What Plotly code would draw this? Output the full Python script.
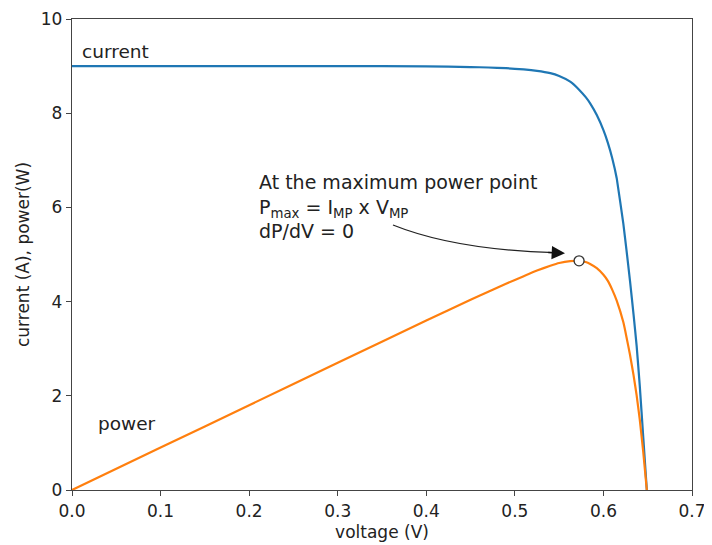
import plotly.graph_objects as go

# Values
voltage = [0.0, 0.1, 0.2, 0.3, 0.4, 0.45, 0.47, 0.49, 0.51, 0.525, 0.54, 0.55, 0.5625, 0.5725,
           0.58, 0.585, 0.5925, 0.6, 0.605, 0.61, 0.615, 0.6225, 0.626, 0.63, 0.634, 0.6375, 0.641, 0.645, 0.649]
current = [9.0, 9.0, 9.0, 9.0, 8.995, 8.98, 8.97, 8.955, 8.93, 8.90, 8.85, 8.79, 8.67, 8.50,
           8.34, 8.21, 7.96, 7.64, 7.37, 7.04, 6.62, 5.65, 5.10, 4.44, 3.73, 3.06, 2.22, 1.11, 0.0]
power = [0.0, 0.90, 1.80, 2.70, 3.60, 4.04, 4.21, 4.38, 4.54, 4.66, 4.76, 4.82, 4.86, 4.865,
         4.84, 4.80, 4.71, 4.57, 4.44, 4.25, 4.02, 3.56, 3.25, 2.87, 2.44, 2.01, 1.50, 0.80, 0.0]
mpp_v = [0.5725]
mpp_p = [4.865]

x_ticks = [0.0, 0.1, 0.2, 0.3, 0.4, 0.5, 0.6, 0.7]
y_ticks = [0, 2, 4, 6, 8, 10]

font = "DejaVu Sans, Verdana, sans-serif"
txt = "#222222"
fig = go.Figure()
fig.add_trace(go.Scatter(x=voltage, y=current, mode="lines",
                         line=dict(color="#1f77b4", width=2.2, shape="spline", smoothing=0.3), showlegend=False))
fig.add_trace(go.Scatter(x=voltage, y=power, mode="lines",
                         line=dict(color="#ff7f0e", width=2.2, shape="spline", smoothing=0.3), showlegend=False))
fig.add_trace(go.Scatter(x=mpp_v, y=mpp_p, mode="markers",
                         marker=dict(size=10, color="white", line=dict(color="#333333", width=1.3)), showlegend=False))

# curved arrow
fig.add_shape(type="path", xref="x", yref="y",
              path="M 0.3624,5.626 Q 0.432,5.10 0.545,5.04",
              line=dict(color="#222222", width=1.3))
fig.add_annotation(x=0.5566, y=5.025, ax=0.536, ay=5.045, xref="x", yref="y", axref="x", ayref="y",
                   text="", showarrow=True, arrowhead=2, arrowsize=1.9, arrowwidth=1.4, arrowcolor="#111111")

fig.add_annotation(x=0.2089, y=6.82, xref="x", yref="y", xanchor="left", yanchor="top", align="left",
                   showarrow=False,
                   text="At the maximum power point<br>P<sub>max</sub> = I<sub>MP</sub> x V<sub>MP</sub><br>dP/dV = 0",
                   font=dict(family=font, size=19, color=txt))
fig.add_annotation(x=0.009, y=9.3, xref="x", yref="y", xanchor="left", yanchor="middle", showarrow=False,
                   text="current", font=dict(family=font, size=18.5, color=txt))
fig.add_annotation(x=0.027, y=1.42, xref="x", yref="y", xanchor="left", yanchor="middle", showarrow=False,
                   text="power", font=dict(family=font, size=18.5, color=txt))

axis_common = dict(showgrid=False, zeroline=False, showline=True, linecolor="#444444", linewidth=1.3,
                   mirror=True, ticks="outside", ticklen=5, tickcolor="#444444", tickwidth=1.3,
                   automargin=False, tickfont=dict(family=font, size=17, color=txt))
fig.update_xaxes(range=[0, 0.7], tickvals=x_ticks, ticktext=[f"{v:.1f}" for v in x_ticks],
                 title=dict(text="voltage (V)", font=dict(family=font, size=17, color=txt), standoff=6),
                 **axis_common)
fig.update_yaxes(range=[0, 10], tickvals=y_ticks,
                 title=dict(text="current (A), power(W)", font=dict(family=font, size=17, color=txt), standoff=6),
                 **axis_common)
# page body has an 8px margin, so the figure's own margins are shifted by 8px
fig.update_layout(width=712, height=545, margin=dict(l=64, r=28, t=11, b=63),
                  plot_bgcolor="white", paper_bgcolor="white")
fig.write_html("out.html")
